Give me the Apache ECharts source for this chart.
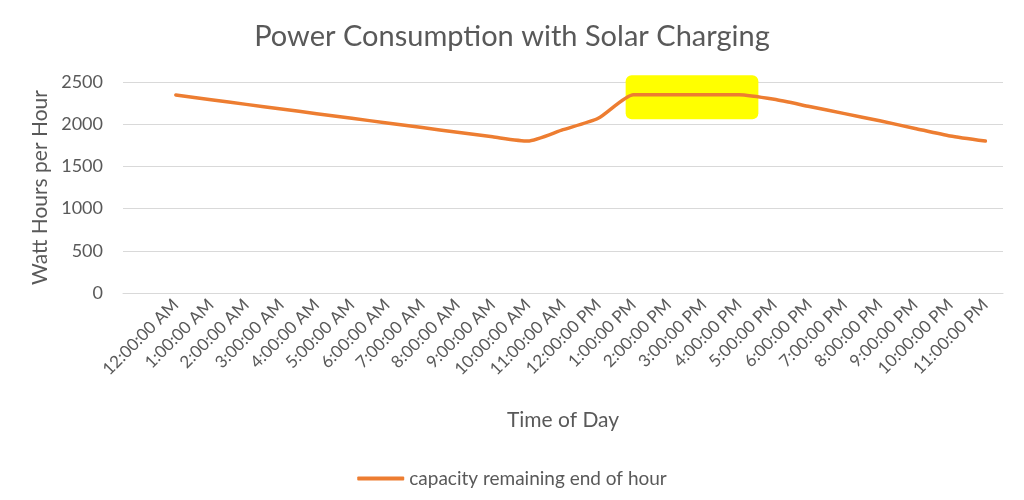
<!DOCTYPE html>
<html>
<head>
<meta charset="utf-8">
<script src="https://cdn.jsdelivr.net/npm/echarts@6/dist/echarts.min.js"></script>
<style>html,body{margin:0;padding:0;background:#fff;}#c{width:1024px;height:500px;}</style>
</head>
<body>
<div id="c"></div>
<script>
var categories = ['', '12:00:00 AM', '1:00:00 AM', '2:00:00 AM', '3:00:00 AM', '4:00:00 AM', '5:00:00 AM',
  '6:00:00 AM', '7:00:00 AM', '8:00:00 AM', '9:00:00 AM', '10:00:00 AM', '11:00:00 AM',
  '12:00:00 PM', '1:00:00 PM', '2:00:00 PM', '3:00:00 PM', '4:00:00 PM', '5:00:00 PM',
  '6:00:00 PM', '7:00:00 PM', '8:00:00 PM', '9:00:00 PM', '10:00:00 PM', '11:00:00 PM'];
var capacity = [null, 2345, 2290, 2235, 2180, 2125, 2070, 2015, 1960, 1905, 1850, 1800, 1935,
  2070, 2350, 2350, 2350, 2350, 2295, 2210, 2125, 2040, 1950, 1860, 1800];
var yTicks = { min: 0, max: 2500, interval: 500 };
// yellow highlighter stroke: from 1:00 PM to 4:00 PM category, value range
var highlight = [[14, 17, 2060, 2580]];

var font = 'Lato';
var txt = '#595959';
var chart = echarts.init(document.getElementById('c'));
chart.setOption({
  animation: false,
  title: {
    text: 'Power Consumption with Solar Charging',
    left: 'center', top: 17,
    textStyle: { fontFamily: font, fontSize: 29, fontWeight: 'normal', color: txt }
  },
  legend: {
    bottom: 7, left: 'center',
    icon: 'roundRect', itemWidth: 47, itemHeight: 4, itemGap: 4,
    textStyle: { fontFamily: font, fontSize: 19, color: txt },
    data: ['capacity remaining end of hour']
  },
  grid: { left: 123, right: 21, top: 82, bottom: 207, outerBoundsMode: 'none' },
  xAxis: {
    type: 'category', data: categories, boundaryGap: true,
    name: 'Time of Day', nameLocation: 'middle', nameGap: 117,
    nameTextStyle: { fontFamily: font, fontSize: 21, color: txt },
    axisLine: { show: true, lineStyle: { color: '#d9d9d9', width: 1 } },
    axisTick: { show: false },
    axisLabel: { rotate: 45, interval: 0, fontFamily: font, fontSize: 17, color: txt, margin: 9 }
  },
  yAxis: {
    type: 'value', min: yTicks.min, max: yTicks.max, interval: yTicks.interval,
    name: 'Watt Hours per Hour', nameLocation: 'middle', nameGap: 70,
    nameTextStyle: { fontFamily: font, fontSize: 21, color: txt },
    axisLine: { show: false }, axisTick: { show: false },
    axisLabel: { fontFamily: font, fontSize: 18, color: txt, margin: 20, formatter: function (v) { return String(v); } },
    splitLine: { lineStyle: { color: '#d9d9d9', width: 1 } }
  },
  series: [{
    type: 'custom', silent: true, z: 1, clip: false,
    data: highlight,
    renderItem: function (params, api) {
      var p1 = api.coord([api.value(0), api.value(3)]);
      var p2 = api.coord([api.value(1), api.value(2)]);
      var band = api.size([1, 0])[0];
      var x0 = p1[0] - band * 0.22, x1 = p2[0] + band * 0.55;
      return {
        type: 'rect',
        shape: { x: x0, y: p1[1], width: x1 - x0, height: p2[1] - p1[1], r: 6 },
        style: { fill: '#FFFF00' }
      };
    }
  }, {
    name: 'capacity remaining end of hour',
    type: 'line', data: capacity, symbol: 'none', smooth: 0.2, clip: false, z: 2,
    lineStyle: { color: '#ED7D31', width: 3.5, cap: 'round', join: 'round' },
    itemStyle: { color: '#ED7D31' }
  }]
});
</script>
</body>
</html>
